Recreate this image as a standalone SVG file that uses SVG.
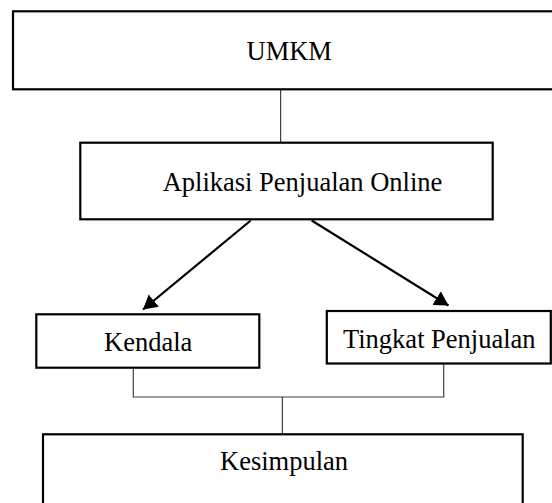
<svg xmlns="http://www.w3.org/2000/svg" width="552" height="503" viewBox="0 0 552 503">
  <style>
    .box { fill: #ffffff; stroke: #000000; stroke-width: 2.2; }
    .lbl { font-family: "Liberation Serif", "Times New Roman", serif; font-size: 26.5px; fill: #000000; }
    .thin { fill: none; stroke: #404040; stroke-width: 1.2; }
    .arrow { fill: none; stroke: #000000; stroke-width: 2.2; marker-end: url(#head); }
  </style>
  <defs>
    <marker id="head" markerUnits="userSpaceOnUse" markerWidth="15" markerHeight="17" refX="14" refY="8" orient="auto">
      <path d="M0,0 L14,8 L0,16 z" fill="#000000"/>
    </marker>
  </defs>
  <rect width="552" height="503" fill="#ffffff"/>

  <g id="connectors">
    <line class="thin" x1="280.6" y1="89" x2="280.6" y2="142.5"/>
    <line class="arrow" x1="250.7" y1="220.5" x2="143" y2="309.5"/>
    <line class="arrow" x1="311.7" y1="220.5" x2="448.5" y2="305.5"/>
    <path class="thin" d="M133.3,367.7 V397 H443.7 V363.5"/>
    <line class="thin" x1="282.4" y1="397" x2="282.4" y2="434"/>
  </g>

  <g id="umkm">
    <rect class="box" x="13" y="11.3" width="545" height="78"/>
    <text class="lbl" x="246.5" y="60">UMKM</text>
  </g>

  <g id="aplikasi">
    <rect class="box" x="80.3" y="142.7" width="412.4" height="76.6"/>
    <text class="lbl" x="162.7" y="191">Aplikasi Penjualan Online</text>
  </g>

  <g id="kendala">
    <rect class="box" x="36.3" y="314.3" width="223" height="53.4"/>
    <text class="lbl" x="104" y="351">Kendala</text>
  </g>

  <g id="tingkat">
    <rect class="box" x="326.8" y="311" width="224" height="52.5"/>
    <text class="lbl" x="343" y="348">Tingkat Penjualan</text>
  </g>

  <g id="kesimpulan">
    <rect class="box" x="43" y="434.3" width="479.7" height="80"/>
    <text class="lbl" x="220" y="470">Kesimpulan</text>
  </g>
</svg>
